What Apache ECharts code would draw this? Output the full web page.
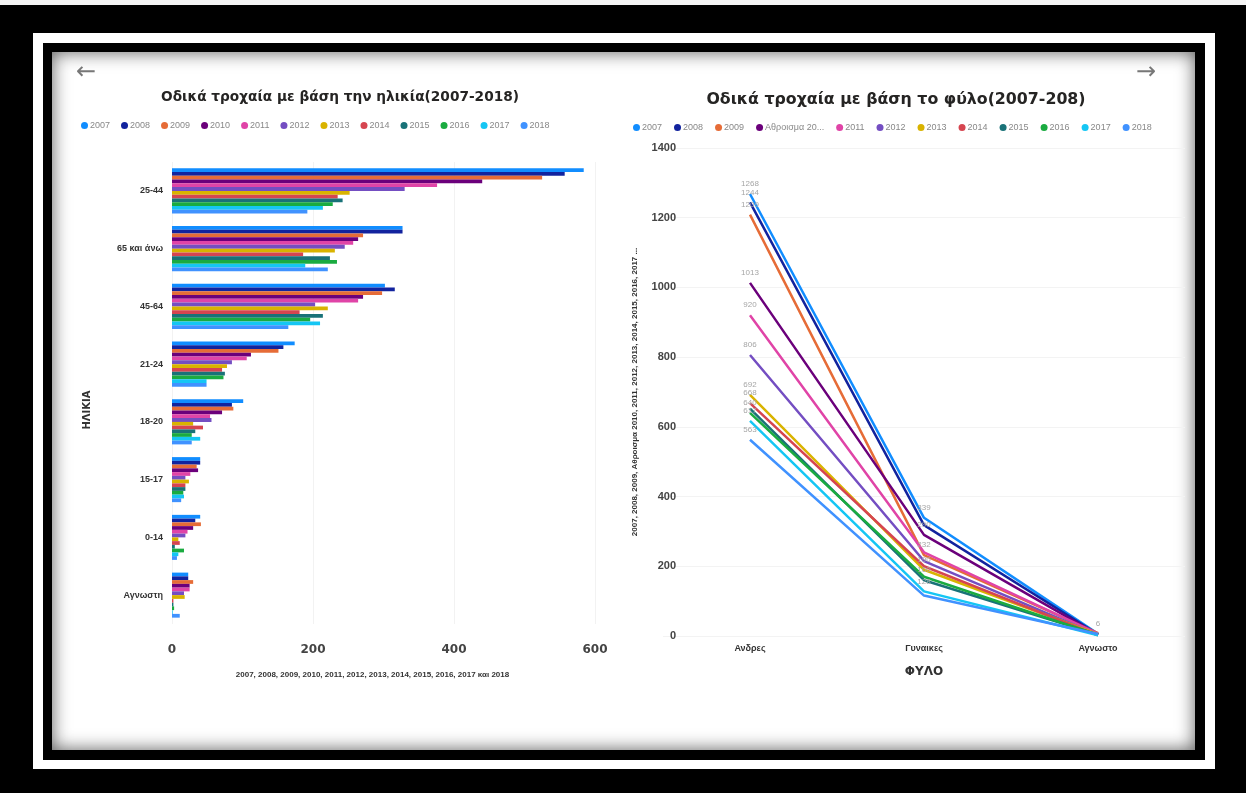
<!DOCTYPE html>
<html>
<head>
<meta charset="utf-8">
<script src="https://cdn.jsdelivr.net/npm/echarts@6/dist/echarts.min.js"></script>
<style>
  html, body { margin:0; padding:0; width:1246px; height:793px; overflow:hidden; background:#000; }
  #topstrip { position:absolute; left:0; top:0; width:1246px; height:5px; background:#f4f4f4; }
  #w1 { position:absolute; left:33px; top:33px; width:1182px; height:736px; background:#fff; }
  #b1 { position:absolute; left:43px; top:43px; width:1162px; height:717px; background:#000; }
  #content { position:absolute; left:52px; top:52px; width:1143px; height:698px; background:#fff;
             box-shadow: inset 0 0 18px rgba(0,0,0,0.65); }
  #chart { position:absolute; left:0; top:0; width:1246px; height:793px; }
</style>
</head>
<body>
<div id="topstrip"></div>
<div id="w1"></div>
<div id="b1"></div>
<div id="content"></div>
<div id="chart"></div>
<script>
// ---------- DATA ----------
const ageCategories = ['25-44', '65 και άνω', '45-64', '21-24', '18-20', '15-17', '0-14', 'Αγνωστη'];
const years = ['2007', '2008', '2009', '2010', '2011', '2012', '2013', '2014', '2015', '2016', '2017', '2018'];
const ageTicks = [0, 200, 400, 600];

const age2007 = [584, 327, 302, 174, 101, 40, 40, 23];
const age2008 = [557, 327, 316, 158, 85, 40, 33, 23];
const age2009 = [525, 271, 298, 151, 87, 35, 41, 30];
const age2010 = [440, 264, 271, 112, 71, 37, 30, 25];
const age2011 = [376, 257, 264, 106, 54, 26, 22, 25];
const age2012 = [330, 245, 203, 85, 56, 19, 19, 17];
const age2013 = [252, 231, 221, 78, 30, 24, 9, 18];
const age2014 = [235, 186, 181, 71, 44, 19, 11, 2];
const age2015 = [242, 224, 214, 75, 33, 19, 4, 2];
const age2016 = [228, 234, 196, 73, 28, 16, 17, 3];
const age2017 = [214, 189, 210, 49, 40, 17, 9, 1];
const age2018 = [192, 221, 165, 49, 28, 13, 7, 11];

const sexCategories = ['Ανδρες', 'Γυναικες', 'Αγνωστο'];
const sexSeriesNames = ['2007', '2008', '2009', 'Αθροισμα 2010', '2011', '2012', '2013', '2014', '2015', '2016', '2017', '2018'];
const sexTicks = [0, 200, 400, 600, 800, 1000, 1200, 1400];

const sex2007 = [1268, 339, 6];
const sex2008 = [1244, 318, 5];
const sex2009 = [1209, 232, 8];
const sex2010 = [1013, 290, 4];
const sex2011 = [920, 240, 7];
const sex2012 = [806, 215, 3];
const sex2013 = [692, 190, 5];
const sex2014 = [668, 200, 2];
const sex2015 = [652, 160, 4];
const sex2016 = [640, 170, 3];
const sex2017 = [617, 128, 2];
const sex2018 = [563, 116, 6];

const palette = ['#118DFF', '#12239E', '#E66C37', '#6B007B', '#E044A7', '#744EC2',
                 '#D9B300', '#D64550', '#197278', '#1AAB40', '#15C6F4', '#4092FF'];

// ---------- BUILD ----------
const ageData = [age2007, age2008, age2009, age2010, age2011, age2012, age2013, age2014, age2015, age2016, age2017, age2018];
const sexData = [sex2007, sex2008, sex2009, sex2010, sex2011, sex2012, sex2013, sex2014, sex2015, sex2016, sex2017, sex2018];

const FONT = '"Liberation Sans", Arial, sans-serif';
const BOLDFONT = '"DejaVu Sans", "Liberation Sans", sans-serif';

const series = [];
years.forEach((y, i) => {
  series.push({
    name: y, type: 'bar', xAxisIndex: 0, yAxisIndex: 0,
    data: ageData[i],
    barGap: '0%', barCategoryGap: '22%',
    itemStyle: { color: palette[i] },
    emphasis: { disabled: true }
  });
});
sexSeriesNames.forEach((n, i) => {
  series.push({
    name: n, type: 'line', xAxisIndex: 1, yAxisIndex: 1,
    data: sexData[i],
    symbol: 'circle', symbolSize: 0.1, showSymbol: true,
    lineStyle: { width: 2.5, color: palette[i] },
    itemStyle: { color: palette[i] },
    label: { show: true, position: 'top', distance: 6, color: '#a6a6a6', fontSize: 8, fontFamily: FONT },
    labelLayout: { hideOverlap: true },
    emphasis: { disabled: true }
  });
});

const chart = echarts.init(document.getElementById('chart'), null, { renderer: 'canvas' });
chart.setOption({
  animation: false,
  textStyle: { fontFamily: FONT },
  grid: [
    { left: 172, right: 651, top: 162, bottom: 169, containLabel: false },
    { left: 663, right: 61, top: 148, bottom: 157, containLabel: false }
  ],
  legend: [
    { data: years, left: 76, top: 116, itemWidth: 7, itemHeight: 7, itemGap: 11, icon: 'circle',
      textStyle: { fontSize: 9, color: '#888', fontFamily: FONT, padding: [0, 0, 0, -3] } },
    { data: sexSeriesNames, left: 628, top: 118, itemWidth: 7, itemHeight: 7, itemGap: 12, icon: 'circle',
      formatter: n => n.length > 11 ? n.slice(0, 11) + '...' : n,
      textStyle: { fontSize: 9, color: '#888', fontFamily: FONT, padding: [0, 0, 0, -3] } }
  ],
  xAxis: [
    { type: 'value', gridIndex: 0, min: ageTicks[0], max: ageTicks[ageTicks.length - 1], interval: 200,
      axisLine: { show: false }, axisTick: { show: false },
      splitLine: { show: true, lineStyle: { color: '#f2f2f2' } },
      axisLabel: { margin: 20, fontSize: 12, fontWeight: 'bold', color: '#444', fontFamily: BOLDFONT },
      name: '2007, 2008, 2009, 2010, 2011, 2012, 2013, 2014, 2015, 2016, 2017 και 2018',
      nameLocation: 'middle', nameGap: 47,
      nameTextStyle: { fontSize: 8, fontWeight: 'bold', color: '#333', padding: [0, 22, 0, 0] } },
    { type: 'category', gridIndex: 1, data: sexCategories, boundaryGap: true,
      axisLine: { show: false }, axisTick: { show: false },
      axisLabel: { margin: 8, fontSize: 9, fontWeight: 'bold', color: '#333' },
      name: 'ΦΥΛΟ', nameLocation: 'middle', nameGap: 30,
      nameTextStyle: { fontSize: 12, fontWeight: 'bold', color: '#333', fontFamily: BOLDFONT } }
  ],
  yAxis: [
    { type: 'category', gridIndex: 0, data: ageCategories, inverse: true,
      axisLine: { show: false }, axisTick: { show: false },
      axisLabel: { margin: 9, fontSize: 9, fontWeight: 'bold', color: '#333' },
      name: 'ΗΛΙΚΙΑ', nameLocation: 'middle', nameGap: 80,
      nameTextStyle: { fontSize: 10, fontWeight: 'bold', color: '#333', fontFamily: BOLDFONT, padding: [0, 34, 0, 0] } },
    { type: 'value', gridIndex: 1, min: sexTicks[0], max: sexTicks[sexTicks.length - 1], interval: 200,
      axisLine: { show: false }, axisTick: { show: false },
      splitLine: { show: true, lineStyle: { color: '#f3f3f3' } },
      axisLabel: { margin: -13, fontSize: 11, fontWeight: 'bold', color: '#444', formatter: v => String(v) },
      name: '2007, 2008, 2009, Αθροισμα 2010, 2011, 2012, 2013, 2014, 2015, 2016, 2017 ...',
      nameLocation: 'middle', nameGap: 24,
      nameTextStyle: { fontSize: 8, fontWeight: 'bold', color: '#333' } }
  ],
  graphic: [
    { type: 'text', left: 76, top: 61, style: { text: '←', fontSize: 24, fill: '#777', fontFamily: 'DejaVu Sans' } },
    { type: 'text', left: 1136, top: 61, style: { text: '→', fontSize: 24, fill: '#777', fontFamily: 'DejaVu Sans' } },
    { type: 'text', x: 340, y: 97, style: { text: 'Οδικά τροχαία με βάση την ηλικία(2007-2018)', fontSize: 13.7, fontWeight: 'bold',
        fill: '#252423', fontFamily: BOLDFONT, align: 'center', verticalAlign: 'middle' } },
    { type: 'text', x: 896, y: 100, style: { text: 'Οδικά τροχαία με βάση το φύλο(2007-208)', fontSize: 15.8, fontWeight: 'bold',
        fill: '#252423', fontFamily: BOLDFONT, align: 'center', verticalAlign: 'middle' } }
  ],
  series: series
});
</script>
</body>
</html>
